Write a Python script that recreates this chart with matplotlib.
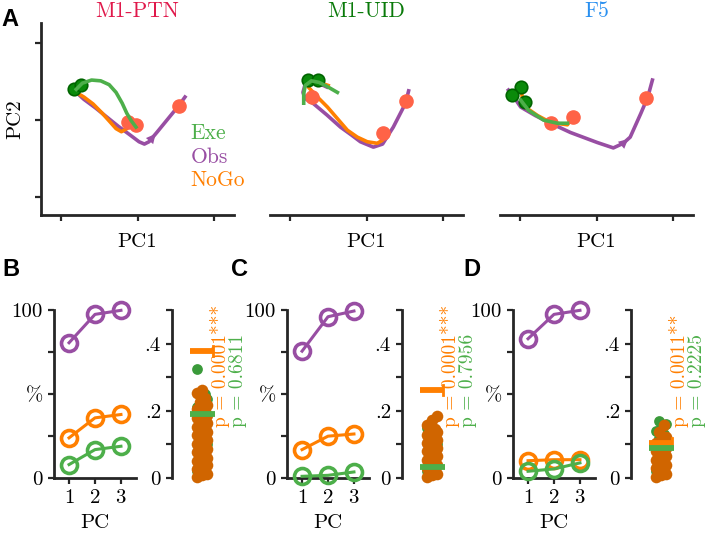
import numpy as np
import matplotlib
matplotlib.use('Agg')
import matplotlib.pyplot as plt

plt.rcParams['font.family'] = ['cmr10', 'DejaVu Serif']
plt.rcParams['axes.unicode_minus'] = False
plt.rcParams['axes.formatter.use_mathtext'] = True

W, H = 708, 535

EXE = '#4DAF4A'
OBS = '#984EA3'
NOGO = '#FF7F00'
START = '#0A8A0A'
STOP = '#FF6347'
NULL_NOGO = '#D06500'
NULL_EXE = '#3A9A3A'
SPINE = '#262626'

titles = ['M1-PTN', 'M1-UID', 'F5']
title_colors = ['#E0194B', '#0A7A0A', '#2A90F0']

# ---- panel A: trajectories in PC1/PC2 space ----
ptn_obs_x = [-0.81, -0.70, -0.55, -0.40, -0.25, -0.10, 0.02, 0.09, 0.15, 0.26, 0.40, 0.54, 0.62]
ptn_obs_y = [0.37, 0.27, 0.16, 0.04, -0.08, -0.19, -0.28, -0.31, -0.28, -0.15, 0.02, 0.19, 0.30]
ptn_nogo_x = [-0.84, -0.80, -0.70, -0.58, -0.47, -0.37, -0.28, -0.21, -0.14, -0.09]
ptn_nogo_y = [0.45, 0.36, 0.30, 0.21, 0.10, -0.01, -0.11, -0.15, -0.11, -0.04]
ptn_exe_x = [-0.80, -0.72, -0.60, -0.48, -0.37, -0.28, -0.20, -0.14, -0.08, -0.02]
ptn_exe_y = [0.40, 0.48, 0.52, 0.51, 0.46, 0.36, 0.22, 0.09, -0.01, -0.09]
ptn_start_x = [-0.83, -0.74]
ptn_start_y = [0.40, 0.46]
ptn_stop_x = [-0.12, -0.02, 0.54]
ptn_stop_y = [-0.03, -0.06, 0.19]

uid_obs_x = [-0.52, -0.65, -0.80, -0.83, -0.80, -0.70, -0.52, -0.34, -0.20, -0.08, 0.09, 0.21, 0.35, 0.51, 0.55]
uid_obs_y = [0.43, 0.49, 0.47, 0.36, 0.28, 0.22, 0.07, -0.09, -0.19, -0.28, -0.35, -0.31, -0.09, 0.22, 0.38]
uid_nogo_x = [-0.50, -0.62, -0.74, -0.76, -0.65, -0.51, -0.38, -0.25, -0.12, 0.01, 0.14, 0.21, 0.22]
uid_nogo_y = [0.45, 0.49, 0.50, 0.43, 0.31, 0.17, 0.02, -0.13, -0.22, -0.28, -0.30, -0.26, -0.17]
uid_exe_x = [-0.82, -0.82, -0.80, -0.72, -0.62, -0.52, -0.38]
uid_exe_y = [0.22, 0.34, 0.45, 0.51, 0.49, 0.44, 0.36]
uid_start_x = [-0.76, -0.63]
uid_start_y = [0.52, 0.52]
uid_stop_x = [-0.71, 0.22, 0.52]
uid_stop_y = [0.30, -0.17, 0.25]

f5_obs_x = [-1.15, -1.08, -0.99, -0.80, -0.60, -0.34, 0.01, 0.22, 0.35, 0.44, 0.58, 0.67, 0.73]
f5_obs_y = [0.39, 0.30, 0.17, 0.06, -0.04, -0.16, -0.29, -0.36, -0.30, -0.22, 0.09, 0.30, 0.52]
f5_nogo_x = [-0.99, -0.97, -0.93, -0.77, -0.60, -0.38, -0.34]
f5_nogo_y = [0.45, 0.30, 0.17, 0.06, -0.03, -0.06, 0.00]
f5_exe_x = [-0.99, -0.89, -0.69, -0.51, -0.38]
f5_exe_y = [0.26, 0.13, 0.00, -0.04, -0.04]
f5_start_x = [-0.99, -1.10, -0.93]
f5_start_y = [0.43, 0.32, 0.24]
f5_stop_x = [-0.60, -0.31, 0.65]
f5_stop_y = [-0.04, 0.04, 0.29]

# ---- panels B-D: variance explained and null distributions ----
pcs = [1, 2, 3]
ptn_var_obs = [80.5, 97.4, 99.8]
ptn_var_nogo = [23.9, 35.8, 37.8]
ptn_var_exe = [8.0, 16.9, 18.9]
uid_var_obs = [75.5, 96.0, 99.4]
uid_var_nogo = [16.9, 24.9, 26.2]
uid_var_exe = [1.0, 1.6, 3.6]
f5_var_obs = [82.9, 97.4, 99.8]
f5_var_nogo = [10.3, 10.9, 10.9]
f5_var_exe = [4.0, 5.4, 9.0]

ptn_null_nogo = [0.003, 0.008, 0.012, 0.018, 0.022, 0.027, 0.033, 0.038, 0.041, 0.047, 0.052,
                 0.058, 0.061, 0.066, 0.072, 0.077, 0.081, 0.086, 0.092, 0.097, 0.101, 0.106,
                 0.112, 0.118, 0.121, 0.127, 0.132, 0.137, 0.142, 0.148, 0.153, 0.158, 0.163,
                 0.168, 0.172, 0.178, 0.183, 0.188, 0.193, 0.198, 0.204, 0.211, 0.217, 0.226,
                 0.238, 0.252, 0.262]
ptn_null_exe = [0.02, 0.06, 0.10, 0.14, 0.18, 0.21, 0.225, 0.235, 0.245, 0.25, 0.325]
uid_null_nogo = [0.003, 0.008, 0.013, 0.018, 0.024, 0.029, 0.034, 0.039, 0.044, 0.049, 0.054,
                 0.059, 0.064, 0.069, 0.074, 0.079, 0.084, 0.089, 0.094, 0.099, 0.104, 0.109,
                 0.114, 0.119, 0.124, 0.128, 0.133, 0.138, 0.142, 0.146, 0.158, 0.172, 0.186]
uid_null_exe = [0.02, 0.06, 0.10, 0.13, 0.143, 0.148]
f5_null_nogo = [0.003, 0.008, 0.013, 0.018, 0.024, 0.029, 0.034, 0.039, 0.044, 0.049, 0.054,
                0.059, 0.064, 0.069, 0.074, 0.079, 0.084, 0.089, 0.094, 0.099, 0.104, 0.109,
                0.122, 0.138, 0.158]
f5_null_exe = [0.02, 0.06, 0.10, 0.12, 0.13, 0.14, 0.15, 0.16, 0.17]
ptn_real = [0.378, 0.19]
uid_real = [0.262, 0.033]
f5_real = [0.105, 0.088]
ptn_p = ['p = 0.0001***', 'p = 0.6811']
uid_p = ['p = 0.0001***', 'p = 0.7956']
f5_p = ['p = 0.0011**', 'p = 0.2225']


def px_axes(fig, x0, y0, x1, y1):
    return fig.add_axes([x0 / W, 1 - y1 / H, (x1 - x0) / W, (y1 - y0) / H])


def style(ax, left=True, bottom=True):
    for s in ['top', 'right']:
        ax.spines[s].set_visible(False)
    ax.spines['left'].set_visible(left)
    ax.spines['bottom'].set_visible(bottom)
    for s in ['left', 'bottom']:
        ax.spines[s].set_linewidth(2.0)
        ax.spines[s].set_color(SPINE)
    ax.tick_params(direction='out', length=4, width=1.6, color=SPINE, labelsize=15, pad=4)
    ax.patch.set_alpha(0)


fig = plt.figure(figsize=(W / 100, H / 100), dpi=100)

traj = [
    (ptn_obs_x, ptn_obs_y, ptn_nogo_x, ptn_nogo_y, ptn_exe_x, ptn_exe_y,
     ptn_start_x, ptn_start_y, ptn_stop_x, ptn_stop_y, 9),
    (uid_obs_x, uid_obs_y, uid_nogo_x, uid_nogo_y, uid_exe_x, uid_exe_y,
     uid_start_x, uid_start_y, uid_stop_x, uid_stop_y, None),
    (f5_obs_x, f5_obs_y, f5_nogo_x, f5_nogo_y, f5_exe_x, f5_exe_y,
     f5_start_x, f5_start_y, f5_stop_x, f5_stop_y, 9),
]
a_boxes = [(41, 23, 234, 215), (270, 23, 463, 215), (500, 23, 693, 215)]

for i, (box, t) in enumerate(zip(a_boxes, traj)):
    ox, oy, nx, ny, ex, ey, sx, sy, rx, ry, arr = t
    ax = px_axes(fig, *box)
    style(ax, left=(i == 0))
    ax.set_xlim(-1.26, 1.26)
    ax.set_ylim(-1.23, 1.26)
    ax.set_xticks([-1, 0, 1])
    ax.set_xticklabels([])
    if i == 0:
        ax.set_yticks([-1, 0, 1])
        ax.set_yticklabels([])
        ax.set_ylabel('PC2', fontsize=15, labelpad=4)
    else:
        ax.set_yticks([])
    ax.set_xlabel('PC1', fontsize=15, labelpad=5)
    ax.set_title(titles[i], color=title_colors[i], fontsize=15.5, pad=4)
    ax.plot(ox, oy, color=OBS, lw=2.6, zorder=2)
    ax.plot(nx, ny, color=NOGO, lw=2.6, zorder=3)
    ax.plot(sx, sy, 'o', ms=9, mfc=START, mec='#006400', mew=1.2, zorder=4)
    ax.plot(rx, ry, 'o', ms=9.5, mfc=STOP, mec=STOP, zorder=4)
    ax.plot(ex, ey, color=EXE, lw=2.6, zorder=5)
    if arr is not None:
        ax.annotate('', xy=(ox[arr], oy[arr]), xytext=(ox[arr - 1], oy[arr - 1]),
                    arrowprops=dict(arrowstyle='-|>', color=OBS, lw=0, mutation_scale=17),
                    zorder=6)
    if i == 0:
        for lab, col, yy in zip(['Exe', 'Obs', 'NoGo'], [EXE, OBS, NOGO], [-0.17, -0.48, -0.78]):
            ax.text(0.69, yy, lab, color=col, fontsize=15.5, va='center', ha='left',
                    clip_on=False)

var_sets = [
    (ptn_var_obs, ptn_var_nogo, ptn_var_exe),
    (uid_var_obs, uid_var_nogo, uid_var_exe),
    (f5_var_obs, f5_var_nogo, f5_var_exe),
]
null_sets = [
    (ptn_null_nogo, ptn_null_exe, ptn_real, ptn_p),
    (uid_null_nogo, uid_null_exe, uid_real, uid_p),
    (f5_null_nogo, f5_null_exe, f5_real, f5_p),
]
left_boxes = [(54, 310, 136, 478), (287, 310, 369, 478), (513, 310, 595, 478)]
right_boxes = [(172, 310, 247, 478), (402, 310, 477, 478), (631, 310, 706, 478)]
jitter = [-5, 0, 5, -2.5, 2.5]

for k in range(3):
    ax = px_axes(fig, *left_boxes[k])
    style(ax)
    for vals, col in zip(var_sets[k], [OBS, NOGO, EXE]):
        ax.plot(pcs, vals, '-o', color=col, lw=2.2, ms=11.5, mfc='none', mew=2.6,
                clip_on=False, zorder=3)
    ax.set_xlim(0.42, 3.58)
    ax.set_ylim(0, 100)
    ax.set_xticks(pcs)
    ax.set_yticks([0, 25, 50, 75, 100])
    ax.set_yticklabels(['0', '', '%', '', '100'])
    ax.set_xlabel('PC', fontsize=15, labelpad=5)

    ax2 = px_axes(fig, *right_boxes[k])
    style(ax2, bottom=False)
    nn, ne, real, ptxt = null_sets[k]
    ax2.scatter(np.resize(jitter, len(ne)), ne, s=60, color=NULL_EXE, lw=0, zorder=2, clip_on=False)
    ax2.scatter(np.resize(jitter, len(nn)), nn, s=70, color=NULL_NOGO, lw=0, zorder=3, clip_on=False)
    ax2.plot([-12, 12], [real[0], real[0]], color=NOGO, lw=4.2, solid_capstyle='butt', zorder=4)
    ax2.plot([11, 11], [real[0] - 0.015, real[0] + 0.015], color=NOGO, lw=2, zorder=4)
    ax2.plot([-12, 13], [real[1], real[1]], color=EXE, lw=4.2, solid_capstyle='butt', zorder=4)
    ax2.text(18, 0.152, ptxt[0], color=NOGO, rotation=90, ha='center', va='bottom', fontsize=14)
    ax2.text(36, 0.152, ptxt[1], color=EXE, rotation=90, ha='center', va='bottom', fontsize=14)
    ax2.set_xlim(-30, 45)
    ax2.set_ylim(0, 0.5)
    ax2.set_xticks([])
    ax2.set_yticks([0, 0.1, 0.2, 0.3, 0.4, 0.5])
    ax2.set_yticklabels(['0', '', '.2', '', '.4', ''])

for lab, x, y in [('A', 10, 20), ('B', 11, 270), ('C', 240, 270), ('D', 472, 270)]:
    fig.text(x / W, 1 - y / H, lab, fontsize=17, fontweight='bold', family='Liberation Sans',
             ha='center', va='center')

fig.savefig('out.png', dpi=100)
